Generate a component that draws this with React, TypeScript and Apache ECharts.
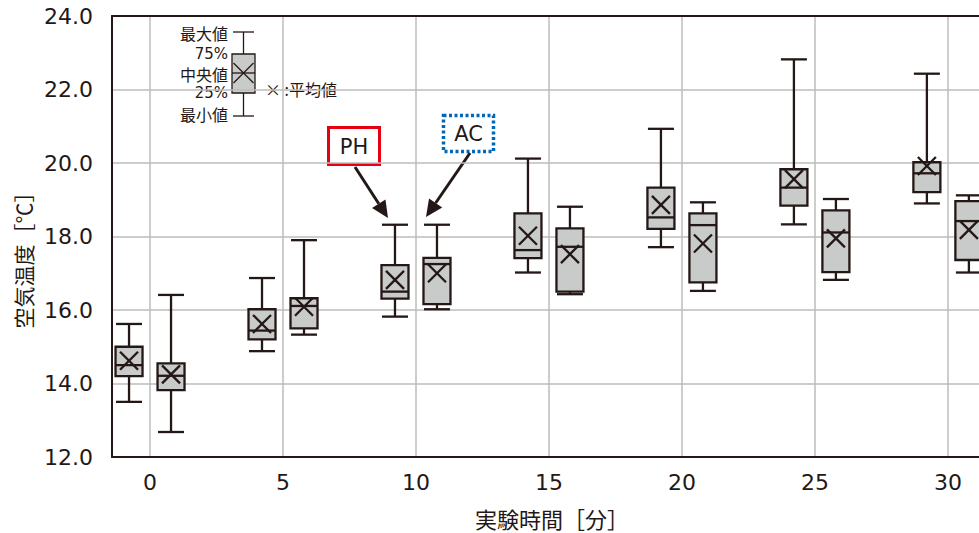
import React, { useEffect, useRef } from "react";
import * as echarts from "echarts";

// Experiment time [min]
const TIMES = [0, 5, 10, 15, 20, 25, 30];
const X_TICKS = [0, 5, 10, 15, 20, 25, 30];
const Y_TICKS = [12, 14, 16, 18, 20, 22, 24];

// [min, Q1, median, Q3, max]
const PH_BOX = [
  [13.5, 14.2, 14.5, 15.0, 15.62],
  [14.88, 15.2, 15.44, 16.02, 16.87],
  [15.82, 16.31, 16.5, 17.22, 18.32],
  [17.02, 17.41, 17.63, 18.63, 20.12],
  [17.71, 18.21, 18.52, 19.33, 20.93],
  [18.33, 18.84, 19.33, 19.83, 22.82],
  [18.9, 19.21, 19.72, 20.02, 22.43],
];
const PH_MEAN = [14.62, 15.62, 16.82, 18.02, 18.86, 19.56, 19.92];

const AC_BOX = [
  [12.68, 13.82, 14.21, 14.55, 16.41],
  [15.33, 15.5, 16.11, 16.32, 17.9],
  [16.02, 16.16, 17.25, 17.42, 18.32],
  [16.43, 16.5, 17.72, 18.22, 18.81],
  [16.52, 16.75, 18.31, 18.63, 18.93],
  [16.82, 17.03, 18.11, 18.71, 19.02],
  [17.02, 17.36, 18.42, 18.96, 19.12],
];
const AC_MEAN = [14.25, 16.09, 17.0, 17.52, 17.81, 17.95, 18.18];

const X_MIN = -1.43;
const X_MAX = 31.17;

const INK = "#231815";
const FILL = "#c9caca";
const GRIDC = "#bdbdbd";
const FONT = "'Noto Sans CJK JP', 'Noto Sans', sans-serif";
const NUMFONT = "'DejaVu Sans', sans-serif";

function makeRender(offset: number) {
  return (params: any, api: any) => {
    const t = api.value(0);
    const cx = api.coord([t, api.value(1)])[0] + offset;
    const y = (k: number) => api.coord([t, api.value(k)])[1];
    const yMin = y(1), yQ1 = y(2), yMed = y(3), yQ3 = y(4), yMax = y(5), yMean = y(6);
    const ls = { stroke: INK, lineWidth: 2.3 };
    const hw = 13.5, cw = 13, xs = 9;
    return {
      type: "group",
      children: [
        { type: "line", shape: { x1: cx, y1: yMax, x2: cx, y2: yMin }, style: ls },
        { type: "line", shape: { x1: cx - cw, y1: yMax, x2: cx + cw, y2: yMax }, style: ls },
        { type: "line", shape: { x1: cx - cw, y1: yMin, x2: cx + cw, y2: yMin }, style: ls },
        { type: "rect", shape: { x: cx - hw, y: yQ3, width: hw * 2, height: yQ1 - yQ3 }, style: { fill: FILL, stroke: INK, lineWidth: 2.3 } },
        { type: "line", shape: { x1: cx - hw, y1: yMed, x2: cx + hw, y2: yMed }, style: ls },
        { type: "line", shape: { x1: cx - xs, y1: yMean - xs, x2: cx + xs, y2: yMean + xs }, style: ls },
        { type: "line", shape: { x1: cx - xs, y1: yMean + xs, x2: cx + xs, y2: yMean - xs }, style: ls },
      ],
    };
  };
}

function arrow(x1: number, y1: number, x2: number, y2: number) {
  const dx = x2 - x1, dy = y2 - y1;
  const len = Math.sqrt(dx * dx + dy * dy);
  const ux = dx / len, uy = dy / len;
  const hl = 17, hw = 8;
  const bx = x2 - ux * hl, by = y2 - uy * hl;
  return [
    { type: "line", shape: { x1, y1, x2: bx, y2: by }, style: { stroke: INK, lineWidth: 3 } },
    {
      type: "polygon",
      shape: { points: [[x2, y2], [bx - uy * hw, by + ux * hw], [bx + uy * hw, by - ux * hw]] },
      style: { fill: INK },
    },
  ];
}

export default function App() {
  const ref = useRef<HTMLDivElement>(null);
  useEffect(() => {
    if (!ref.current) return;
    const chart = echarts.init(ref.current, null, { renderer: "svg" });
    const phData = TIMES.map((t, i) => [t, ...PH_BOX[i], PH_MEAN[i]]);
    const acData = TIMES.map((t, i) => [t, ...AC_BOX[i], AC_MEAN[i]]);
    const lt = { fontFamily: FONT, fontSize: 16, lineHeight: 14, fill: INK, align: "right", verticalAlign: "middle" };
    const ln = { fontFamily: NUMFONT, fontSize: 15, lineHeight: 14, fill: INK, align: "right", verticalAlign: "middle" };
    // legend diagram
    const lx = 243.5;
    const lw = 1.3;
    const legend = [
      { type: "rect", shape: { x: 163, y: 22, width: 178, height: 100 }, style: { fill: "#fff" } },
      { type: "line", shape: { x1: lx, y1: 32, x2: lx, y2: 116 }, style: { stroke: INK, lineWidth: lw } },
      { type: "line", shape: { x1: lx - 10.5, y1: 32, x2: lx + 10.5, y2: 32 }, style: { stroke: INK, lineWidth: lw } },
      { type: "line", shape: { x1: lx - 10.5, y1: 116, x2: lx + 10.5, y2: 116 }, style: { stroke: INK, lineWidth: lw } },
      { type: "rect", shape: { x: lx - 11.5, y: 54, width: 23, height: 39 }, style: { fill: FILL, stroke: INK, lineWidth: lw } },
      { type: "line", shape: { x1: lx - 11.5, y1: 73, x2: lx + 11.5, y2: 73 }, style: { stroke: INK, lineWidth: lw } },
      { type: "line", shape: { x1: lx - 10, y1: 63, x2: lx + 10, y2: 83 }, style: { stroke: INK, lineWidth: lw } },
      { type: "line", shape: { x1: lx - 10, y1: 83, x2: lx + 10, y2: 63 }, style: { stroke: INK, lineWidth: lw } },
      { type: "text", x: 228, y: 33, style: { ...lt, text: "最大値" } },
      { type: "text", x: 228, y: 54, style: { ...ln, text: "75%" } },
      { type: "text", x: 228, y: 73.5, style: { ...lt, text: "中央値" } },
      { type: "text", x: 228, y: 93, style: { ...ln, text: "25%" } },
      { type: "text", x: 228, y: 113.5, style: { ...lt, text: "最小値" } },
      { type: "text", x: 265, y: 89, style: { ...lt, align: "left", text: "× :平均値" } },
    ];
    const callouts = [
      { type: "rect", shape: { x: 328.5, y: 127.5, width: 51, height: 37 }, style: { fill: "#fff", stroke: "#e60012", lineWidth: 3 } },
      { type: "text", x: 354, y: 146.5, style: { fontFamily: NUMFONT, fontSize: 21, fill: INK, text: "PH", align: "center", verticalAlign: "middle" } },
      { type: "rect", shape: { x: 443.5, y: 115.5, width: 50, height: 36 }, style: { fill: "#fff", stroke: "#0068b7", lineWidth: 3.5, lineDash: [3, 2.5] } },
      { type: "text", x: 468.5, y: 134, style: { fontFamily: NUMFONT, fontSize: 21, fill: INK, text: "AC", align: "center", verticalAlign: "middle" } },
      ...arrow(355, 167, 388, 218),
      ...arrow(470, 153, 426, 217),
    ];
    chart.setOption({
      animation: false,
      backgroundColor: "#fff",
      grid: { left: 112, right: 0, top: 16, bottom: 76, show: false },
      xAxis: [
        {
          type: "value",
          min: X_MIN,
          max: X_MAX,
          axisLine: { show: true, onZero: false, lineStyle: { color: INK, width: 2 } },
          axisTick: { show: false, customValues: X_TICKS },
          axisLabel: { customValues: X_TICKS, fontFamily: NUMFONT, fontSize: 22, color: INK, margin: 14 },
          splitLine: { show: true, lineStyle: { color: GRIDC, width: 1.5 } },
        },
        {
          type: "value",
          position: "top",
          min: X_MIN,
          max: X_MAX,
          axisLine: { show: true, onZero: false, lineStyle: { color: INK, width: 2 } },
          axisTick: { show: false },
          axisLabel: { show: false },
          splitLine: { show: false },
        },
      ],
      yAxis: {
        type: "value",
        min: Y_TICKS[0],
        max: Y_TICKS[Y_TICKS.length - 1],
        interval: 2,
        axisLine: { show: true, onZero: false, lineStyle: { color: INK, width: 2 } },
        axisTick: { show: false },
        axisLabel: { fontFamily: NUMFONT, fontSize: 22, color: INK, margin: 19, formatter: (v: number) => v.toFixed(1) },
        splitLine: { show: true, lineStyle: { color: GRIDC, width: 1.5 } },
      },
      graphic: [
        { type: "text", x: 23, y: 255, rotation: Math.PI / 2, style: { fontFamily: FONT, fontSize: 21, fill: INK, text: "空気温度［℃］", align: "center", verticalAlign: "middle" } },
        { type: "text", x: 552, y: 518, style: { fontFamily: FONT, fontSize: 22, fill: INK, text: "実験時間［分］", align: "center", verticalAlign: "middle" } },
        ...legend,
        ...callouts,
      ],
      series: [
        { name: "PH", type: "custom", renderItem: makeRender(-21), data: phData, encode: { x: 0, y: [1, 2, 3, 4, 5, 6] }, z: 5 },
        { name: "AC", type: "custom", renderItem: makeRender(21), data: acData, encode: { x: 0, y: [1, 2, 3, 4, 5, 6] }, z: 5 },
      ],
    });
    return () => chart.dispose();
  }, []);
  return <div ref={ref} style={{ position: "fixed", left: 0, top: 0, width: 979, height: 533, background: "#fff" }} />;
}
